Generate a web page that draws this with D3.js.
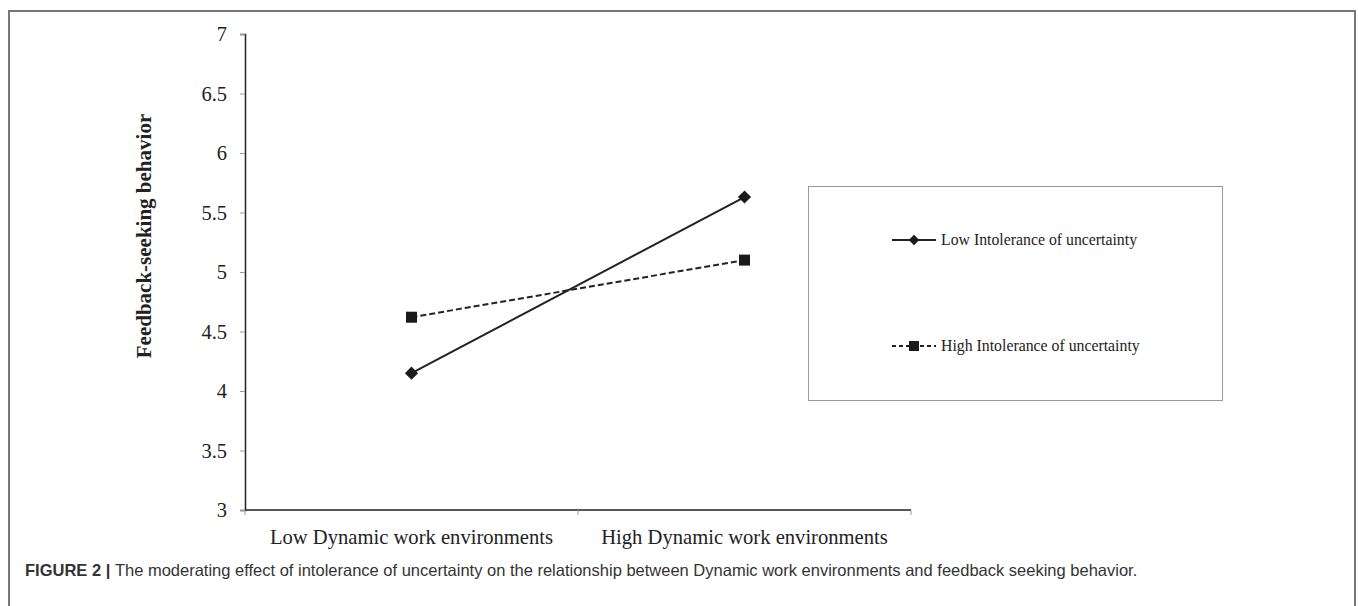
<!DOCTYPE html>
<html>
<head>
<meta charset="utf-8">
<script src="https://d3js.org/d3.v7.min.js"></script>
<style>
  html, body { margin: 0; padding: 0; background: #fff; }
  svg { display: block; }
  .serif { font-family: "Liberation Serif", "Times New Roman", serif; fill: #222; }
  .caption { font-family: "Liberation Sans", Arial, sans-serif; font-size: 16.5px; fill: #333; }
</style>
</head>
<body>
<script>
"use strict";
// chart data
const categories = ["Low Dynamic work environments", "High Dynamic work environments"];
const seriesNames = ["Low Intolerance of uncertainty", "High Intolerance of uncertainty"];
const lowIU = [4.15, 5.63];
const highIU = [4.62, 5.10];
const yTicks = [3, 3.5, 4, 4.5, 5, 5.5, 6, 6.5, 7];

const W = 1358, H = 606;
const svg = d3.select("body").append("svg").attr("width", W).attr("height", H);

// outer frame around the figure
svg.append("path")
  .attr("d", `M9,${H + 5}V11H1355V${H + 5}`)
  .attr("fill", "none").attr("stroke", "#777").attr("stroke-width", 2);

const x = d3.scaleBand().domain(categories).range([245, 911]);
const y = d3.scaleLinear().domain([3, 7]).range([510, 34]);

// y axis
const yAxis = svg.append("g").attr("transform", "translate(245,0)")
  .call(d3.axisLeft(y).tickValues(yTicks).tickSize(5).tickPadding(13).tickFormat(d3.format("")));
yAxis.select(".domain").attr("stroke", "#222").attr("stroke-width", 1.5);
yAxis.selectAll(".tick line").attr("stroke", "#999");
yAxis.selectAll(".tick text").attr("class", "serif").attr("font-size", 20.5).attr("fill", "#222").attr("dy", "0.33em");

// x axis: ticks sit on band edges
const xAxis = svg.append("g").attr("transform", "translate(0,510)");
xAxis.append("line").attr("x1", 245).attr("x2", 911).attr("stroke", "#222").attr("stroke-width", 1.5);
const edges = [x.range()[0], ...categories.map(c => x(c) + x.bandwidth())];
xAxis.selectAll("line.tk").data(edges).join("line").attr("class", "tk")
  .attr("x1", d => d).attr("x2", d => d).attr("y1", 0).attr("y2", 5).attr("stroke", "#999");
xAxis.selectAll("text").data(categories).join("text")
  .attr("class", "serif").attr("font-size", 20.6).attr("text-anchor", "middle")
  .attr("x", d => x(d) + x.bandwidth() / 2).attr("y", 34)
  .text(d => d);

// y axis title
svg.append("text").attr("class", "serif")
  .attr("transform", "translate(151,236) rotate(-90)")
  .attr("text-anchor", "middle").attr("font-size", 21).attr("font-weight", "bold")
  .text("Feedback-seeking behavior");

const cx = d => x(d) + x.bandwidth() / 2;
const line = d3.line().x((d, i) => cx(categories[i])).y(d => y(d));

// series
svg.append("path").datum(lowIU).attr("d", line)
  .attr("fill", "none").attr("stroke", "#222").attr("stroke-width", 2);
svg.append("path").datum(highIU).attr("d", line)
  .attr("fill", "none").attr("stroke", "#222").attr("stroke-width", 2).attr("stroke-dasharray", "6,3");

const diamond = d3.symbol().type(d3.symbolDiamond2).size(110);
svg.selectAll("path.dm").data(lowIU).join("path").attr("class", "dm")
  .attr("d", diamond).attr("fill", "#1a1a1a")
  .attr("transform", (d, i) => `translate(${cx(categories[i])},${y(d)})`);
svg.selectAll("rect.sq").data(highIU).join("rect").attr("class", "sq")
  .attr("x", (d, i) => cx(categories[i]) - 5.5).attr("y", d => y(d) - 5.5)
  .attr("width", 11).attr("height", 11).attr("fill", "#1a1a1a");

// legend
const lg = svg.append("g");
lg.append("rect").attr("x", 808.5).attr("y", 186.5).attr("width", 414).attr("height", 214)
  .attr("fill", "none").attr("stroke", "#999").attr("stroke-width", 1);
const rows = [
  { name: seriesNames[0], y: 240, dash: null, mark: "diamond" },
  { name: seriesNames[1], y: 346, dash: "4,3", mark: "square" }
];
rows.forEach(r => {
  lg.append("line").attr("x1", 892).attr("x2", 936).attr("y1", r.y).attr("y2", r.y)
    .attr("stroke", "#222").attr("stroke-width", 2).attr("stroke-dasharray", r.dash);
  if (r.mark === "diamond") {
    lg.append("path").attr("d", d3.symbol().type(d3.symbolDiamond2).size(70))
      .attr("transform", `translate(914,${r.y})`).attr("fill", "#1a1a1a");
  } else {
    lg.append("rect").attr("x", 909).attr("y", r.y - 5).attr("width", 10).attr("height", 10).attr("fill", "#1a1a1a");
  }
  lg.append("text").attr("class", "serif").attr("font-size", 15.8)
    .attr("x", 941).attr("y", r.y).attr("dy", "0.33em").text(r.name);
});

// caption
const cap = svg.append("text").attr("class", "caption").attr("x", 25).attr("y", 576);
cap.append("tspan").attr("font-weight", "bold").text("FIGURE 2 | ");
cap.append("tspan").text("The moderating effect of intolerance of uncertainty on the relationship between Dynamic work environments and feedback seeking behavior.");
</script>
</body>
</html>
